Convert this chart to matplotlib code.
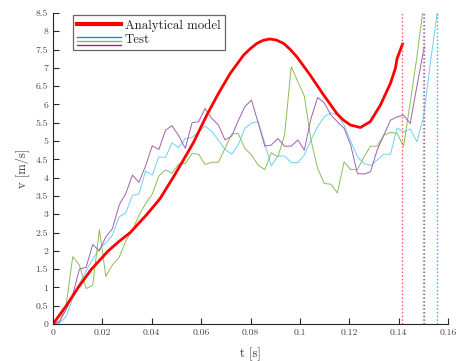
import numpy as np
import matplotlib
matplotlib.use("Agg")
import matplotlib.pyplot as plt
from matplotlib.lines import Line2D
from matplotlib.legend_handler import HandlerBase

plt.rcParams['font.family'] = 'serif'
plt.rcParams['font.serif'] = ['cmr10', 'DejaVu Serif']
plt.rcParams['mathtext.fontset'] = 'cm'
plt.rcParams['axes.formatter.use_mathtext'] = True

# --- Data ---
t_model = [0, 0.0054, 0.0102, 0.0156, 0.0224, 0.0268, 0.0313, 0.0381, 0.0434, 0.0488,
           0.0528, 0.0569, 0.0623, 0.067, 0.0718, 0.0772, 0.0800, 0.0826, 0.0850, 0.0878,
           0.0905, 0.0934, 0.0960, 0.0988, 0.1042, 0.1096, 0.1150, 0.1175, 0.1204, 0.1245,
           0.1285, 0.1326, 0.1367, 0.1387, 0.1394, 0.1418]
v_model = [0, 0.5, 1.0, 1.5, 2.0, 2.26, 2.5, 3.0, 3.43, 4.02,
           4.48, 4.96, 5.71, 6.3, 6.85, 7.35, 7.53, 7.67, 7.75, 7.79,
           7.76, 7.67, 7.51, 7.30, 6.80, 6.26, 5.75, 5.58, 5.44, 5.37,
           5.53, 5.98, 6.58, 6.99, 7.26, 7.69]

# test sampling times
t_test = [0, 0.0027, 0.0054, 0.0080, 0.0107, 0.0134, 0.0161, 0.0188, 0.0214, 0.0241,
          0.0268, 0.0295, 0.0322, 0.0348, 0.0375, 0.0402, 0.0429, 0.0456, 0.0482, 0.0509,
          0.0536, 0.0563, 0.0590, 0.0616, 0.0643, 0.0670, 0.0697, 0.0724, 0.0750, 0.0777,
          0.0804, 0.0831, 0.0858, 0.0884, 0.0911, 0.0938, 0.0965, 0.0992, 0.1018, 0.1045,
          0.1072, 0.1099, 0.1126, 0.1152, 0.1179, 0.1206, 0.1233, 0.1260, 0.1286, 0.1313,
          0.1340, 0.1367, 0.1394, 0.1420, 0.1447, 0.1474, 0.1501, 0.1528, 0.1554]

v_blue = [0, 0.02, 0.22, 0.70, 1.10, 1.45, 1.78, 2.05, 2.22, 2.43,
          2.93, 3.04, 3.52, 3.55, 4.18, 4.07, 4.57, 4.55, 4.95, 4.82,
          5.07, 5.10, 5.25, 5.41, 5.26, 5.03, 4.77, 4.64, 4.89, 5.35,
          5.49, 5.53, 4.94, 4.32, 4.59, 4.59, 4.41, 4.41, 4.62, 5.03,
          5.39, 5.67, 5.77, 5.71, 5.44, 5.00, 4.57, 4.39, 4.33, 4.48,
          4.64, 4.64, 5.36, 5.25, 5.33, 4.98, 5.66, 7.10, 8.49]
v_green = [0, 0.05, 0.56, 1.84, 1.61, 0.97, 1.06, 2.58, 1.30, 1.62,
           1.82, 2.27, 2.56, 2.97, 3.29, 3.55, 4.05, 4.21, 4.12, 4.37,
           4.39, 4.66, 4.64, 4.36, 4.42, 4.42, 4.80, 5.19, 5.21, 4.80,
           4.62, 4.34, 4.22, 4.68, 4.57, 5.16, 7.03, 6.62, 6.23, 5.03,
           4.25, 3.84, 3.82, 3.58, 4.43, 4.22, 4.22, 4.57, 4.86, 4.86,
           5.16, 5.24, 5.21, 4.86, 6.05, 7.30, 8.55]
v_purple = [0, 0.08, 0.40, 0.80, 1.50, 1.55, 2.17, 2.00, 2.38, 2.61,
            3.25, 3.57, 4.07, 3.87, 4.32, 4.87, 4.77, 5.30, 5.42, 5.15,
            4.80, 5.50, 5.53, 5.89, 5.62, 5.44, 5.03, 5.14, 5.55, 5.94,
            6.12, 5.50, 4.86, 4.89, 5.07, 4.86, 4.86, 5.03, 4.75, 5.62,
            6.19, 6.04, 5.71, 5.53, 5.35, 4.89, 4.11, 4.10, 4.16, 4.75,
            5.16, 5.57, 5.66, 5.71, 5.48, 6.50, 7.58]

# end times (dotted markers)
t_end_model = 0.1415
t_end_green = 0.1498
t_end_purple = 0.1504
t_end_blue = 0.1556


class HandlerStack(HandlerBase):
    """draws several lines stacked vertically in one legend entry"""
    def create_artists(self, legend, orig_handle, xdescent, ydescent,
                       width, height, fontsize, trans):
        arts = []
        for i, h in enumerate(orig_handle):
            y = height / 2 - ydescent + (1 - i) * 3.0 - 2.0
            ln = Line2D([-xdescent, width - xdescent], [y, y],
                        color=h.get_color(), lw=1.0)
            ln.set_transform(trans)
            arts.append(ln)
        return arts


fig = plt.figure(figsize=(4.62, 3.61), dpi=100)
ax = fig.add_axes([53 / 462, 1 - 324 / 361, 395 / 462, 311 / 361])

c_blue = "#6fcff5"
c_green = "#8cbc58"
c_purple = "#a060ae"

ax.plot(t_test[:len(v_blue) - 1] + [t_end_blue], v_blue, color=c_blue, lw=0.7)
ax.plot(t_test[:len(v_green) - 1] + [t_end_green], v_green, color=c_green, lw=0.7)
ax.plot(t_test[:len(v_purple) - 1] + [t_end_purple], v_purple, color=c_purple, lw=0.7)
ax.plot(t_model, v_model, color="red", lw=2.0, solid_joinstyle="round",
        solid_capstyle="butt")

ax.axvline(t_end_model, color="#ff5555", ls=":", lw=1.0)
ax.axvline(t_end_green, color=c_green, ls=":", lw=1.0)
ax.axvline(t_end_purple, color=c_purple, ls=":", lw=1.0)
ax.axvline(t_end_blue, color="#33aaee", ls=":", lw=1.0)

ax.set_xlim(0, 0.16)
ax.set_ylim(0, 8.5)
xt = [0, 0.02, 0.04, 0.06, 0.08, 0.1, 0.12, 0.14, 0.16]
yt = [0, 0.5, 1, 1.5, 2, 2.5, 3, 3.5, 4, 4.5, 5, 5.5, 6, 6.5, 7, 7.5, 8, 8.5]
ax.set_xticks(xt)
ax.set_xticklabels([f"{x:g}" for x in xt])
ax.set_yticks(yt)
ax.set_yticklabels([f"{y:g}" for y in yt])
ax.tick_params(direction="in", length=4, width=0.8, labelsize=7, colors="#262626",
               labelcolor="#444444")
ax.spines["top"].set_visible(False)
ax.spines["right"].set_visible(False)
for s in ["left", "bottom"]:
    ax.spines[s].set_color("#262626")
    ax.spines[s].set_linewidth(0.8)

ax.set_xlabel("t [s]", fontsize=9, color="#333333", labelpad=7)
ax.set_ylabel("v [m/s]", fontsize=9, color="#333333", labelpad=4)

h_model = Line2D([], [], color="red", lw=3.0)
h_b = Line2D([], [], color="#1a8fd0")
h_g = Line2D([], [], color="#8cb84a")
h_p = Line2D([], [], color="#7e2f8e")
leg = ax.legend([h_model, (h_b, h_g, h_p)], ["Analytical model", "Test"],
                handler_map={tuple: HandlerStack()},
                loc="upper left", bbox_to_anchor=(0.05, 0.995), borderaxespad=0,
                fontsize=9.3, fancybox=False, handlelength=3.4, handletextpad=0.3,
                labelspacing=0.15, borderpad=0.35, framealpha=1)
leg.get_frame().set_edgecolor("#666666")
leg.get_frame().set_linewidth(0.9)
for txt in leg.get_texts():
    txt.set_color("#222222")

fig.savefig("out.png", dpi=100)
